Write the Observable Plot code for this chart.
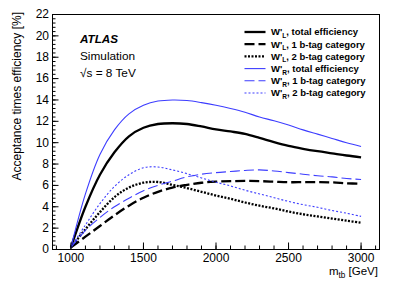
<!DOCTYPE html>
<html><head><meta charset="utf-8">
<script src="https://cdn.jsdelivr.net/npm/d3@7"></script>
<script src="https://cdn.jsdelivr.net/npm/@observablehq/plot@0.6"></script>
<style>
html,body{margin:0;padding:0;background:#fff;}
#chart{width:399px;height:288px;}
</style></head><body><div id="chart"></div>
<script>
// ---- data ----
const mass = [1000,1100,1200,1300,1400,1500,1600,1700,1800,1900,2000,2100,2200,2300,2400,2500,2600,2700,2800,2900,3000];
const wlTotal = [0.2,4.0,7.0,9.1,10.6,11.4,11.75,11.82,11.75,11.52,11.25,11.05,10.82,10.45,10.05,9.7,9.43,9.2,9.0,8.8,8.63];
const wl1b    = [0.2,1.2,2.2,3.2,4.1,4.85,5.4,5.8,6.05,6.25,6.35,6.4,6.42,6.4,6.35,6.3,6.3,6.3,6.28,6.2,6.15];
const wl2b    = [0.2,1.9,3.5,4.9,5.8,6.25,6.32,6.05,5.75,5.4,5.05,4.75,4.4,4.1,3.85,3.55,3.3,3.1,2.9,2.7,2.5];
const wrTotal = [0.2,5.2,8.9,11.2,12.7,13.5,13.9,14.0,13.95,13.75,13.5,13.2,12.85,12.4,12.05,11.65,11.2,10.8,10.4,10.0,9.65];
const wr1b    = [0.2,1.8,3.0,4.0,4.8,5.5,6.0,6.4,6.8,7.05,7.2,7.3,7.4,7.45,7.35,7.2,7.05,6.9,6.8,6.65,6.55];
const wr2b    = [0.2,2.3,4.3,5.9,7.0,7.65,7.72,7.45,7.1,6.7,6.3,5.95,5.55,5.2,4.85,4.5,4.2,3.95,3.65,3.4,3.1];

const seriesNames = ["wlTotal","wl1b","wl2b","wrTotal","wr1b","wr2b"];
const seriesValues = [wlTotal, wl1b, wl2b, wrTotal, wr1b, wr2b];
const legendSub = ["L","L","L","R","R","R"];
const legendText = [", total efficiency",", 1 b-tag category",", 2 b-tag category",", total efficiency",", 1 b-tag category",", 2 b-tag category"];

const xTickLabels = [1000,1500,2000,2500,3000];
const xMinorTicks = [900,1000,1100,1200,1300,1400,1500,1600,1700,1800,1900,2000,2100,2200,2300,2400,2500,2600,2700,2800,2900,3000,3100];
const yTickLabels = [0,2,4,6,8,10,12,14,16,18,20,22];
const yMinorTicks = d3.range(0, 22.001, 0.4);

// ---- styles ----
const BLUE = "#3d3dff";
const styles = {
  wlTotal: {stroke:"#000", strokeWidth:2.3, dash:null},
  wl1b:    {stroke:"#000", strokeWidth:2.3, dash:"10,4"},
  wl2b:    {stroke:"#000", strokeWidth:2.3, dash:"2,1.5"},
  wrTotal: {stroke:BLUE, strokeWidth:1.1, dash:null},
  wr1b:    {stroke:BLUE, strokeWidth:1.1, dash:"10,4"},
  wr2b:    {stroke:BLUE, strokeWidth:1.1, dash:"2,2"}
};

const rows = [];
seriesNames.forEach((s, i) => mass.forEach((m, j) => rows.push({series: s, m, v: seriesValues[i][j]})));

const W = 399, H = 288, mL = 52, mR = 20, mT = 14, mB = 39;
const fw = W - mL - mR, fh = H - mT - mB;
const FONT = '"Liberation Sans", Arial, Helvetica, sans-serif';

const lineMarks = seriesNames.map(s => Plot.line(rows.filter(r => r.series === s), {
  x: "m", y: "v", curve: "catmull-rom",
  stroke: styles[s].stroke, strokeWidth: styles[s].strokeWidth,
  strokeDasharray: styles[s].dash, strokeLinecap: "butt"
}));

const svg = Plot.plot({
  width: W, height: H,
  marginLeft: mL, marginRight: mR, marginTop: mT, marginBottom: mB,
  style: {fontFamily: FONT, background: "#fff", color: "#000"},
  x: {domain: [873, 3127], axis: null},
  y: {domain: [0, 22], axis: null},
  marks: [
    ...lineMarks,
    Plot.tickX(xMinorTicks, {x: d => d, stroke: "#000", strokeWidth: 1, insetTop: fh - 3.5}),
    Plot.tickX(xTickLabels, {x: d => d, stroke: "#000", strokeWidth: 1, insetTop: fh - 6.5}),
    Plot.tickY(yMinorTicks, {y: d => d, stroke: "#000", strokeWidth: 1, insetRight: fw - 3.5}),
    Plot.tickY(yTickLabels, {y: d => d, stroke: "#000", strokeWidth: 1, insetRight: fw - 6.5}),
    Plot.text(xTickLabels, {x: d => d, text: d => String(d), frameAnchor: "bottom", dy: 8.8, fontSize: 12, lineAnchor: "middle", textAnchor: "middle"}),
    Plot.text(yTickLabels, {y: d => d, text: d => String(d), frameAnchor: "left", dx: -3.5, fontSize: 12, lineAnchor: "middle", textAnchor: "end"}),
    Plot.frame({stroke: "#000", strokeWidth: 1})
  ]
});

const g = d3.select(svg).append("g").attr("font-family", FONT).attr("fill", "#000").attr("text-anchor", "start");

// ATLAS label
g.append("text").attr("x", 80).attr("y", 43).attr("font-size", 11.7).attr("font-weight", "bold").attr("font-style", "italic").text("ATLAS");
g.append("text").attr("x", 80).attr("y", 60).attr("font-size", 11.8).text("Simulation");
g.append("text").attr("x", 80).attr("y", 76.5).attr("font-size", 11.8).text("√s = 8 TeV");

// legend
const legY0 = 32, legStep = 12.2;
seriesNames.forEach((s, i) => {
  const y = legY0 + i * legStep;
  g.append("line").attr("x1", 244.5).attr("x2", 265.5).attr("y1", y).attr("y2", y)
    .attr("stroke", styles[s].stroke).attr("stroke-width", styles[s].strokeWidth)
    .attr("stroke-dasharray", styles[s].dash);
  const t = g.append("text").attr("x", 271).attr("y", y + 3.4).attr("font-size", 9.5).attr("font-weight", "bold");
  t.append("tspan").text("W'");
  t.append("tspan").attr("font-size", 6.5).attr("dy", 2.5).text(legendSub[i]);
  t.append("tspan").attr("dy", -2.5).text(legendText[i]);
});

// axis titles
g.append("text").attr("transform", "translate(21,12) rotate(-90)").attr("text-anchor", "end").attr("font-size", 12)
  .text("Acceptance times efficiency [%]");
const xt = g.append("text").attr("x", 378).attr("y", 274.5).attr("text-anchor", "end").attr("font-size", 11.5);
xt.append("tspan").text("m");
xt.append("tspan").attr("font-size", 8.2).attr("dy", 3).text("tb");
xt.append("tspan").attr("dy", -3).text(" [GeV]");

document.getElementById("chart").appendChild(svg);
</script>
</body></html>
